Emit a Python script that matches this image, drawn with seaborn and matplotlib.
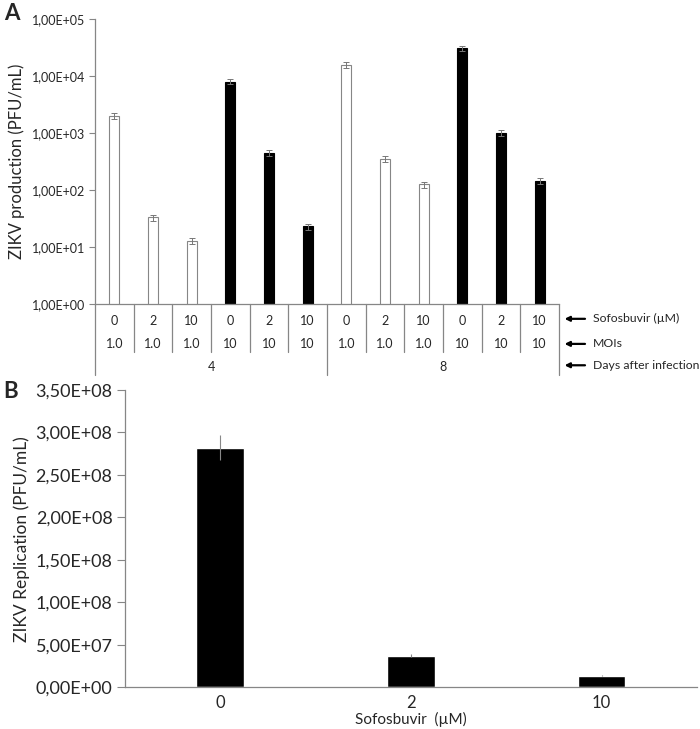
import numpy as np
import pandas as pd
import matplotlib
matplotlib.use("Agg")
import matplotlib.pyplot as plt
import matplotlib.ticker as mticker
import seaborn as sns

# panel A data
sofosbuvir_a = ["0", "2", "10", "0", "2", "10", "0", "2", "10", "0", "2", "10"]
mois = ["1.0", "1.0", "1.0", "10", "10", "10", "1.0", "1.0", "1.0", "10", "10", "10"]
days = ["4", "8"]
pfu_a = [2000, 33, 13, 8000, 450, 23, 15500, 355, 125, 30500, 1000, 145]
err_a = [250, 4, 1.6, 900, 50, 2.8, 1900, 45, 15, 3500, 110, 17]

# panel B data
sofosbuvir_b = ["0", "2", "10"]
pfu_b = [2.82e8, 3.72e7, 1.37e7]
err_b = [1.45e7, 1.5e6, 6e5]

sns.set_style("white")
plt.rcParams['font.family'] = ['Lato', 'DejaVu Sans']

gray = "#868686"
fig = plt.figure(figsize=(7, 7.29), dpi=100)

def sci_comma(v, pos):
    return ("%.2E" % v).replace(".", ",")

# ---------------- panel A ----------------
axA = fig.add_axes([95/700, 1-304/729, 464/700, 285/729])
axA.set_yscale("log")
dfA = pd.DataFrame({"pos": [str(i) for i in range(len(pfu_a))], "pfu": pfu_a, "moi": mois})
sns.barplot(data=dfA, x="pos", y="pfu", hue="moi", palette={"1.0": "white", "10": "black"},
            dodge=False, width=0.26, legend=False, ax=axA, errorbar=None)
# white bars get gray edges
for p in axA.patches:
    fc = p.get_facecolor()
    if fc[0] > 0.5:
        p.set_edgecolor(gray)
    else:
        p.set_edgecolor("black")
    p.set_linewidth(0.8)
axA.errorbar(range(len(pfu_a)), pfu_a, yerr=err_a, fmt="none", ecolor="#777777",
             elinewidth=0.7, capsize=2, capthick=0.7)
axA.set_ylim(1, 1e5)
axA.set_xlim(-0.5, 11.5)
axA.yaxis.set_major_locator(mticker.LogLocator(base=10, numticks=10))
axA.yaxis.set_minor_locator(mticker.NullLocator())
axA.yaxis.set_major_formatter(mticker.FuncFormatter(sci_comma))
axA.tick_params(axis="y", left=True, length=4, width=0.8, color=gray, labelsize=9, pad=3)
axA.tick_params(axis="x", bottom=False, labelbottom=False)
axA.set_xlabel("")
axA.set_ylabel("ZIKV production (PFU/mL)", fontsize=12, labelpad=5)
for s in ["top", "right"]:
    axA.spines[s].set_visible(False)
for s in ["left", "bottom"]:
    axA.spines[s].set_color(gray)
    axA.spines[s].set_linewidth(0.9)

# table under panel A
tr = axA.get_xaxis_transform()
row_y = [-0.058, -0.141, -0.222]
for i in range(len(sofosbuvir_a)):
    axA.text(i, row_y[0], sofosbuvir_a[i], transform=tr, ha="center", va="center", fontsize=9)
    axA.text(i, row_y[1], mois[i], transform=tr, ha="center", va="center", fontsize=9)
for k in range(1, 12):
    y_end = -0.249 if k == 6 else -0.168
    axA.plot([k - 0.5, k - 0.5], [0, y_end], transform=tr, color=gray, lw=0.9, clip_on=False)
for xx in [-0.5, 11.5]:
    axA.plot([xx, xx], [0, -0.249], transform=tr, color=gray, lw=0.9, clip_on=False)
axA.text(2.5, row_y[2], days[0], transform=tr, ha="center", va="center", fontsize=9)
axA.text(8.5, row_y[2], days[1], transform=tr, ha="center", va="center", fontsize=9)

row_names = ["Sofosbuvir (µM)", "MOIs", "Days after infection"]
arrow_y = [-0.052, -0.14, -0.215]
for name, yy in zip(row_names, arrow_y):
    axA.annotate("", xy=(1.006, yy), xytext=(1.062, yy), xycoords="axes fraction",
                 arrowprops=dict(arrowstyle="-|>", color="black", lw=1.6, mutation_scale=7))
    axA.text(1.073, yy, name, transform=axA.transAxes, ha="left", va="center", fontsize=8.8)

fig.text(4/700, 1-14/729, "A", fontsize=16, fontweight="bold", va="center", ha="left")

# ---------------- panel B ----------------
axB = fig.add_axes([125/700, 1-687.3/729, 572/700, 297.3/729])
dfB = pd.DataFrame({"dose": sofosbuvir_b, "pfu": pfu_b})
sns.barplot(data=dfB, x="dose", y="pfu", color="black", width=0.25, ax=axB,
            errorbar=None, saturation=1)
axB.errorbar(range(len(pfu_b)), pfu_b, yerr=err_b, fmt="none", ecolor="#888888",
             elinewidth=0.8, capsize=0)
axB.set_ylim(0, 3.5e8)
axB.set_xlim(-0.5, 2.5)
axB.yaxis.set_major_locator(mticker.MultipleLocator(5e7))
axB.yaxis.set_major_formatter(mticker.FuncFormatter(sci_comma))
axB.tick_params(axis="y", left=True, length=6, width=0.8, color=gray, labelsize=13, pad=3)
axB.tick_params(axis="x", bottom=False, labelsize=12, pad=2)
axB.set_xlabel("Sofosbuvir  (µM)", fontsize=11)
axB.xaxis.set_label_coords(0.5, -0.082)
axB.set_ylabel("ZIKV Replication (PFU/mL)", fontsize=12.5, labelpad=4)
for s in ["top", "right"]:
    axB.spines[s].set_visible(False)
for s in ["left", "bottom"]:
    axB.spines[s].set_color(gray)
    axB.spines[s].set_linewidth(0.9)

fig.text(3/700, 1-392/729, "B", fontsize=16, fontweight="bold", va="center", ha="left")

fig.savefig("out.png", dpi=100)
